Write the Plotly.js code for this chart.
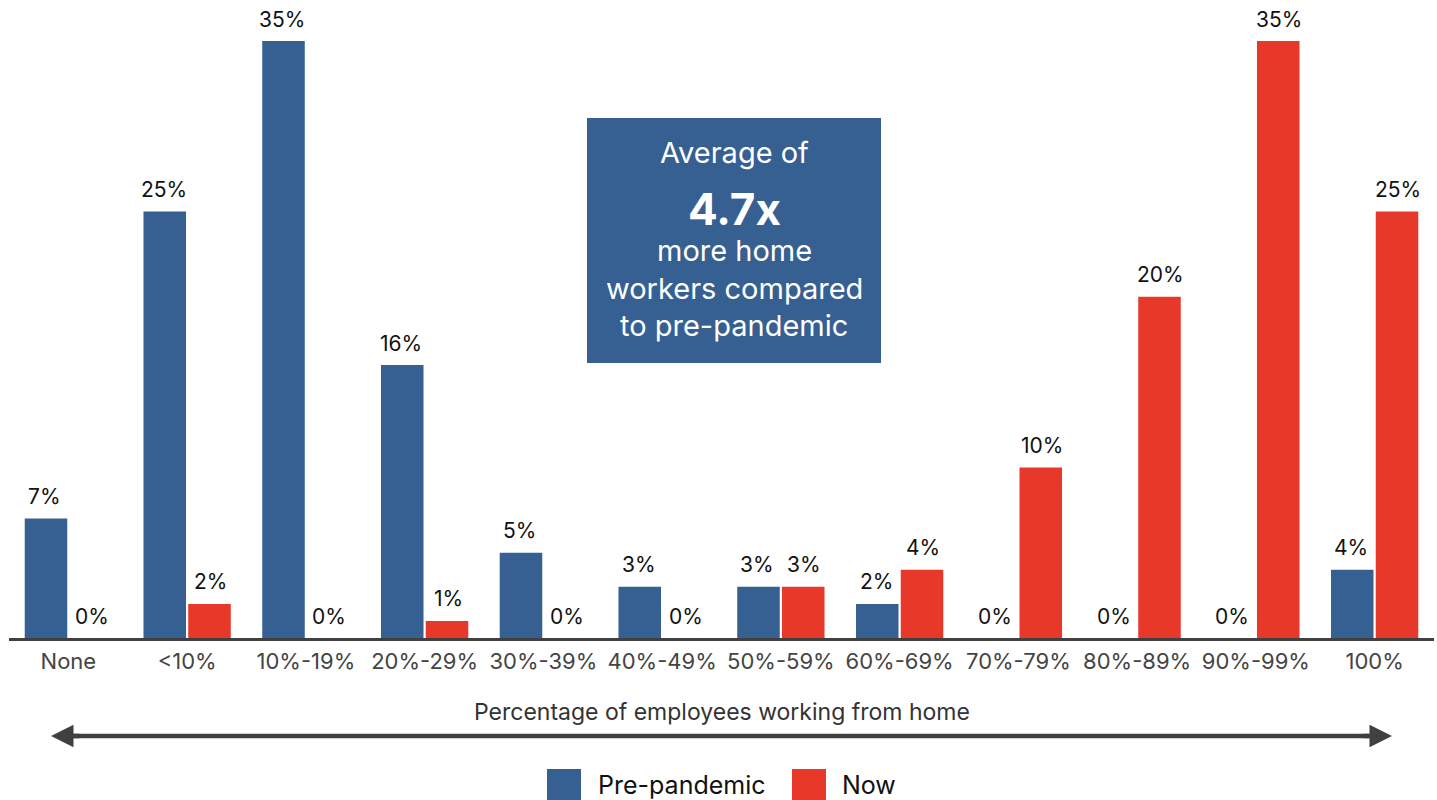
<!DOCTYPE html>
<html>
<head>
<meta charset="utf-8">
<script src="https://cdn.plot.ly/plotly-3.0.1.min.js"></script>
<style>html,body{margin:0;padding:0;background:#fff;}#chart{width:1437px;height:800px;}</style>
</head>
<body>
<div id="chart"></div>
<script>
const categories = ["None", "<10%", "10%-19%", "20%-29%", "30%-39%", "40%-49%", "50%-59%", "60%-69%", "70%-79%", "80%-89%", "90%-99%", "100%"];
const prePandemic = [7, 25, 35, 16, 5, 3, 3, 2, 0, 0, 0, 4];
const now = [0, 2, 0, 1, 0, 0, 3, 4, 10, 20, 35, 25];
const seriesNames = ["Pre-pandemic", "Now"];
const calloutLines = ["Average of", "4.7x", "more home", "workers compared", "to pre-pandemic"];
const axisTitle = "Percentage of employees working from home";

const BLUE = "#376092";
const RED = "#E8382A";
const FONT = "Inter, 'Noto Sans', sans-serif";

const W = 1437, H = 800;
const L = 9, R = 3, T = 41, B = 162;
const pw = W - L - R, ph = H - T - B;
const px = p => (p - L) / pw;
const py = p => (H - B - p) / ph;

function bar(name, vals, color) {
  return {
    type: "bar", name: name, x: categories, y: vals,
    marker: {color: color},
    hoverinfo: "skip", showlegend: false
  };
}

const data = [bar(seriesNames[0], prePandemic, BLUE), bar(seriesNames[1], now, RED)];

const annotations = [];
// data labels, placed through the axes at each bar's value
[[prePandemic, -23.5], [now, 23.5]].forEach(([vals, shift]) => {
  vals.forEach((v, i) => {
    annotations.push({
      xref: "x", yref: "y", x: categories[i], y: v,
      xshift: shift, yshift: 22, xanchor: "center", yanchor: "middle",
      showarrow: false, text: v + "%",
      font: {family: FONT, size: 21, color: "#111"}
    });
  });
});

const calloutY = [152, 209, 250, 288, 325];
calloutLines.forEach((t, i) => annotations.push({
  xref: "paper", yref: "paper", x: px(734), y: py(calloutY[i]),
  xanchor: "center", yanchor: "middle", showarrow: false,
  text: i === 1 ? "<b>" + t + "</b>" : t,
  font: {family: FONT, size: i === 1 ? 44 : 29, color: "#fff"}
}));

annotations.push({
  xref: "paper", yref: "paper", x: px(722), y: py(712),
  xanchor: "center", yanchor: "middle", showarrow: false,
  text: axisTitle, font: {family: FONT, size: 23, color: "#333"}
});

const arrowY = py(736);
[[51, 30], [1392, -30]].forEach(([tip, off]) => {
  annotations.push({
    xref: "paper", yref: "paper", x: px(tip), y: arrowY,
    ax: off, ay: 0, text: "", showarrow: true,
    arrowhead: 2, arrowsize: 1, arrowwidth: 4.5, arrowcolor: "#404040"
  });
});

annotations.push({
  xref: "paper", yref: "paper", x: px(596), y: py(785),
  xanchor: "left", yanchor: "middle", showarrow: false,
  text: seriesNames[0], font: {family: FONT, size: 25, color: "#111"}
});
annotations.push({
  xref: "paper", yref: "paper", x: px(840), y: py(785),
  xanchor: "left", yanchor: "middle", showarrow: false,
  text: seriesNames[1], font: {family: FONT, size: 25, color: "#111"}
});

const shapes = [
  {type: "rect", xref: "paper", yref: "paper", x0: px(587), x1: px(881), y0: py(363), y1: py(118),
   fillcolor: BLUE, line: {width: 0}, layer: "below"},
  {type: "line", xref: "paper", yref: "paper", x0: px(70), x1: px(1373), y0: arrowY, y1: arrowY,
   line: {color: "#404040", width: 4.5}},
  {type: "rect", xref: "paper", yref: "paper", x0: px(547), x1: px(581), y0: py(800), y1: py(769),
   fillcolor: BLUE, line: {width: 0}},
  {type: "rect", xref: "paper", yref: "paper", x0: px(792), x1: px(826), y0: py(800), y1: py(769),
   fillcolor: RED, line: {width: 0}}
];

const layout = {
  width: W, height: H,
  margin: {l: L, r: R, t: T, b: B},
  paper_bgcolor: "#fff", plot_bgcolor: "#fff",
  barmode: "group", bargap: 0.246, bargroupgap: 0.05,
  xaxis: {
    type: "category", showline: true, linecolor: "#404040", linewidth: 3,
    ticks: "", showgrid: false, zeroline: false, ticklabelstandoff: 2,
    tickfont: {family: FONT, size: 22, color: "#444"}, fixedrange: true
  },
  yaxis: {range: [0, 35], visible: false, showgrid: false, zeroline: false, fixedrange: true},
  showlegend: false,
  annotations: annotations,
  shapes: shapes
};

Plotly.newPlot("chart", data, layout, {displayModeBar: false, staticPlot: true});
</script>
</body>
</html>
